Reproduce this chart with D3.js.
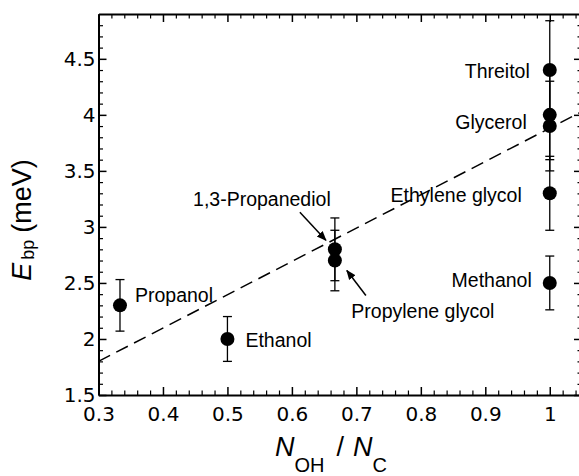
<!DOCTYPE html>
<html>
<head>
<meta charset="utf-8">
<script src="https://cdn.jsdelivr.net/npm/d3@7"></script>
<style>
  html, body { margin: 0; padding: 0; background: #fff; }
  svg { display: block; }
  .label { font-family: "Liberation Sans", Arial, sans-serif; font-size: 19.5px; fill: #000; }
  .title { font-family: "Liberation Sans", Arial, sans-serif; fill: #000; }
  .axis text { font-family: "DejaVu Sans", sans-serif; font-size: 20px; fill: #000; }
  .axis path, .axis line { stroke: #000; }
</style>
</head>
<body>
<svg id="chart" width="579" height="476"></svg>
<script>

// data
const compounds = ['Propanol', 'Ethanol', '1,3-Propanediol', 'Propylene glycol', 'Methanol',
  'Ethylene glycol', 'Glycerol', '', 'Threitol'];
const ohPerC = [1 / 3, 0.5, 2 / 3, 2 / 3, 1, 1, 1, 1, 1];
const ebp = [2.3, 2.0, 2.8, 2.7, 2.5, 3.3, 4.0, 3.9, 4.4];
const ebpErr = [0.23, 0.2, 0.28, 0.27, 0.24, 0.33, 0.4, 0.4, 0.44];

// dashed guide line (end points)
const fitX = [0.3, 1.05];
const fitY = [1.8, 4.03];

const xTicks = [0.3, 0.4, 0.5, 0.6, 0.7, 0.8, 0.9, 1];
const xTickLabels = ['0.3', '0.4', '0.5', '0.6', '0.7', '0.8', '0.9', '1'];
const yTicks = [1.5, 2, 2.5, 3, 3.5, 4, 4.5];
const yTickLabels = ['1.5', '2', '2.5', '3', '3.5', '4', '4.5'];

// where each label sits relative to its point
const labelLayout = {
  'Propanol':         { dx: 15,  dy: -3,  anchor: 'start' },
  'Ethanol':          { dx: 18,  dy: 8,   anchor: 'start' },
  '1,3-Propanediol':  { dx: -73, dy: -43, anchor: 'middle', arrow: [[-35, -37], [-9, -9]] },
  'Propylene glycol': { dx: 88,  dy: 57,  anchor: 'middle', arrow: [[31, 35], [12, 10]] },
  'Methanol':         { dx: -18, dy: 4,   anchor: 'end' },
  'Ethylene glycol':  { dx: -28, dy: 9,   anchor: 'end' },
  'Glycerol':         { dx: -23, dy: 14,  anchor: 'end' },
  'Threitol':         { dx: -20, dy: 8,   anchor: 'end' }
};

const plot = { left: 98.5, right: 582, top: 14, bottom: 395 };

const svg = d3.select('#chart');

const x = d3.scaleLinear().domain([0.3, 1.05]).range([plot.left, plot.right]);
const y = d3.scaleLinear().domain([1.5, 4.9]).range([plot.bottom, plot.top]);

const xMinor = d3.range(0.3, 1.05, 0.02).filter(v => Math.abs(v * 10 - Math.round(v * 10)) > 1e-6);
const yMinor = d3.range(1.5, 4.9, 0.1).filter(v => Math.abs(v * 2 - Math.round(v * 2)) > 1e-6);

const MAJOR = 8;
const MINOR = 4.5;


/**
 * Draw one axis (major + minor ticks, inward).
 */
function drawAxis(axisFn, scale, transform, major, labels, minor, showLabels) {

  const g = svg.append('g')
    .attr('class', 'axis')
    .attr('transform', transform);

  g.append('g')
    .call(axisFn(scale)
      .tickValues(minor)
      .tickSize(-MINOR)
      .tickSizeOuter(0)
      .tickFormat(''))
    .call(s => s.select('.domain').remove())
    .selectAll('line').attr('stroke-width', 1.2);

  const main = g.append('g')
    .call(axisFn(scale)
      .tickValues(major)
      .tickSize(-MAJOR)
      .tickSizeOuter(0)
      .tickPadding(2)
      .tickFormat((d, i) => showLabels ? labels[i] : ''));

  main.select('.domain').attr('stroke-width', 2);
  main.selectAll('line').attr('stroke-width', 1.5);

  return main;
}

const bottomAxis = drawAxis(d3.axisBottom, x, `translate(0,${plot.bottom})`, xTicks, xTickLabels, xMinor, true);
bottomAxis.selectAll('text').attr('y', 12).attr('dy', '0.71em');

drawAxis(d3.axisTop, x, `translate(0,${plot.top})`, xTicks, xTickLabels, xMinor, false);
drawAxis(d3.axisLeft, y, `translate(${plot.left},0)`, yTicks, yTickLabels, yMinor, true)
  .selectAll('text').attr('x', -3);
drawAxis(d3.axisRight, y, `translate(${plot.right},0)`, yTicks, yTickLabels, yMinor, false);


// dashed line
svg.append('line')
  .attr('x1', x(fitX[0]))
  .attr('y1', y(fitY[0]))
  .attr('x2', x(fitX[1]))
  .attr('y2', y(fitY[1]))
  .attr('stroke', '#000')
  .attr('stroke-width', 1.5)
  .attr('stroke-dasharray', '13,7');


// arrow head
svg.append('defs')
  .append('marker')
  .attr('id', 'head')
  .attr('viewBox', '0 0 10 10')
  .attr('refX', 9)
  .attr('refY', 5)
  .attr('markerWidth', 10)
  .attr('markerHeight', 10)
  .attr('markerUnits', 'userSpaceOnUse')
  .attr('orient', 'auto')
  .append('path')
  .attr('d', 'M0,1 L10,5 L0,9 Z')
  .attr('fill', '#000');


const points = compounds.map((name, i) => ({
  name: name,
  x: ohPerC[i],
  y: ebp[i],
  err: ebpErr[i]
}));


// error bars
const bars = svg.append('g')
  .selectAll('g')
  .data(points)
  .join('g')
  .attr('stroke', '#000')
  .attr('stroke-width', 1.3);

bars.append('line')
  .attr('x1', d => x(d.x))
  .attr('x2', d => x(d.x))
  .attr('y1', d => y(d.y - d.err))
  .attr('y2', d => y(d.y + d.err));

bars.selectAll('.cap')
  .data(d => [d.y - d.err, d.y + d.err].map(v => ({ x: d.x, v: v })))
  .join('line')
  .attr('class', 'cap')
  .attr('x1', d => x(d.x) - 4.5)
  .attr('x2', d => x(d.x) + 4.5)
  .attr('y1', d => y(d.v))
  .attr('y2', d => y(d.v));


// markers
svg.append('g')
  .selectAll('circle')
  .data(points)
  .join('circle')
  .attr('cx', d => x(d.x))
  .attr('cy', d => y(d.y))
  .attr('r', 7)
  .attr('fill', '#000');


// labels and arrows
const labelled = points.filter(d => labelLayout[d.name]);

svg.append('g')
  .selectAll('text')
  .data(labelled)
  .join('text')
  .attr('class', 'label')
  .attr('x', d => x(d.x) + labelLayout[d.name].dx)
  .attr('y', d => y(d.y) + labelLayout[d.name].dy)
  .attr('text-anchor', d => labelLayout[d.name].anchor)
  .text(d => d.name);

svg.append('g')
  .selectAll('line')
  .data(labelled.filter(d => labelLayout[d.name].arrow))
  .join('line')
  .attr('x1', d => x(d.x) + labelLayout[d.name].arrow[0][0])
  .attr('y1', d => y(d.y) + labelLayout[d.name].arrow[0][1])
  .attr('x2', d => x(d.x) + labelLayout[d.name].arrow[1][0])
  .attr('y2', d => y(d.y) + labelLayout[d.name].arrow[1][1])
  .attr('stroke', '#000')
  .attr('stroke-width', 1.5)
  .attr('marker-end', 'url(#head)');


// y title
const yTitle = svg.append('text')
  .attr('class', 'title')
  .attr('transform', 'translate(31,220) rotate(-90)')
  .attr('text-anchor', 'middle');

yTitle.append('tspan').attr('font-size', 27).attr('font-style', 'italic').text('E');
yTitle.append('tspan').attr('font-size', 18).attr('dx', 3).attr('dy', 3).text('bp');
yTitle.append('tspan').attr('font-size', 27).attr('dx', 7).attr('dy', -3).text('(meV)');


// x title
const xTitle = svg.append('text')
  .attr('class', 'title')
  .attr('x', 275)
  .attr('y', 456);

xTitle.append('tspan').attr('font-size', 27).attr('font-style', 'italic').text('N');
xTitle.append('tspan').attr('font-size', 20).attr('dy', 16).text('OH');
xTitle.append('tspan').attr('font-size', 27).attr('dx', 12).attr('dy', -16).text('/');
xTitle.append('tspan').attr('font-size', 27).attr('dx', 9).attr('font-style', 'italic').text('N');
xTitle.append('tspan').attr('font-size', 20).attr('dy', 16).text('C');

</script>
</body>
</html>
